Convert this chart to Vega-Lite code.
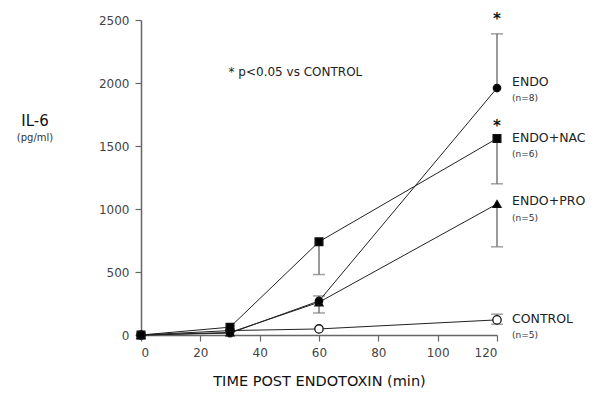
{
  "$schema": "https://vega.github.io/schema/vega-lite/v6.json",
  "width": 356,
  "height": 315,
  "autosize": {"type": "none"},
  "padding": {"left": 141, "top": 20, "right": 103, "bottom": 73},
  "background": "white",
  "config": {
    "view": {"stroke": null},
    "font": "DejaVu Sans",
    "axis": {
      "domainColor": "#666",
      "domainWidth": 1.5,
      "tickColor": "#666",
      "tickWidth": 1.2,
      "tickSize": 6,
      "grid": false,
      "labelFont": "DejaVu Sans",
      "labelFontSize": 12,
      "labelColor": "#444",
      "titleFont": "DejaVu Sans",
      "titleFontWeight": "normal",
      "titleColor": "#111"
    }
  },
  "title": {
    "text": "IL-6",
    "subtitle": "(pg/ml)",
    "anchor": "start",
    "frame": "group",
    "align": "center",
    "dx": -106,
    "dy": 135,
    "fontSize": 15,
    "fontWeight": "normal",
    "font": "DejaVu Sans",
    "subtitleFont": "DejaVu Sans",
    "subtitleFontSize": 10,
    "subtitleColor": "#333",
    "subtitlePadding": 4,
    "color": "#111"
  },
  "datasets": {
    "series": [
      {"group": "CONTROL", "time": 0, "il6": 0},
      {"group": "CONTROL", "time": 30, "il6": 35},
      {"group": "CONTROL", "time": 60, "il6": 48},
      {"group": "CONTROL", "time": 120, "il6": 120},
      {"group": "ENDO+PRO", "time": 0, "il6": 0},
      {"group": "ENDO+PRO", "time": 30, "il6": 20},
      {"group": "ENDO+PRO", "time": 60, "il6": 260},
      {"group": "ENDO+PRO", "time": 120, "il6": 1040},
      {"group": "ENDO", "time": 0, "il6": 0},
      {"group": "ENDO", "time": 30, "il6": 15},
      {"group": "ENDO", "time": 60, "il6": 270},
      {"group": "ENDO", "time": 120, "il6": 1960},
      {"group": "ENDO+NAC", "time": 0, "il6": 0},
      {"group": "ENDO+NAC", "time": 30, "il6": 62},
      {"group": "ENDO+NAC", "time": 60, "il6": 740},
      {"group": "ENDO+NAC", "time": 120, "il6": 1560}
    ],
    "errors": [
      {"group": "ENDO", "time": 120, "lo": 1960, "hi": 2390},
      {"group": "ENDO", "time": 60, "lo": 270, "hi": 310},
      {"group": "ENDO+NAC", "time": 120, "lo": 1200, "hi": 1560},
      {"group": "ENDO+NAC", "time": 60, "lo": 480, "hi": 740},
      {"group": "ENDO+PRO", "time": 120, "lo": 700, "hi": 1040},
      {"group": "ENDO+PRO", "time": 60, "lo": 175, "hi": 260},
      {"group": "CONTROL", "time": 120, "lo": 85, "hi": 165}
    ],
    "caps": [
      {"time": 120, "v": 2390},
      {"time": 60, "v": 310},
      {"time": 120, "v": 1200},
      {"time": 60, "v": 480},
      {"time": 120, "v": 700},
      {"time": 60, "v": 175},
      {"time": 120, "v": 85},
      {"time": 120, "v": 165}
    ],
    "labels": [
      {"time": 120, "v": 2010, "text": "ENDO", "kind": "name"},
      {"time": 120, "v": 1880, "text": "(n=8)", "kind": "n"},
      {"time": 120, "v": 1565, "text": "ENDO+NAC", "kind": "name"},
      {"time": 120, "v": 1435, "text": "(n=6)", "kind": "n"},
      {"time": 120, "v": 1065, "text": "ENDO+PRO", "kind": "name"},
      {"time": 120, "v": 930, "text": "(n=5)", "kind": "n"},
      {"time": 120, "v": 130, "text": "CONTROL", "kind": "name"},
      {"time": 120, "v": 0, "text": "(n=5)", "kind": "n"}
    ],
    "stars": [
      {"time": 120, "v": 2510},
      {"time": 120, "v": 1660}
    ],
    "note": [
      {"time": 29.5, "v": 2085, "text": "*  p<0.05  vs  CONTROL"}
    ]
  },
  "layer": [
    {
      "data": {"name": "errors"},
      "mark": {"type": "rule", "color": "#777", "strokeWidth": 1.5},
      "encoding": {
        "x": {"field": "time", "type": "quantitative", "scale": {"domain": [0, 120], "nice": false},
              "axis": {"values": [0, 20, 40, 60, 80, 100, 120], "title": "TIME POST ENDOTOXIN (min)", "titleFontSize": 14.5, "titlePadding": 16, "labelPadding": 6}},
        "y": {"field": "lo", "type": "quantitative", "scale": {"domain": [0, 2500], "nice": false},
              "axis": {"values": [0, 500, 1000, 1500, 2000, 2500], "format": "d", "title": null, "labelPadding": 6}},
        "y2": {"field": "hi"}
      }
    },
    {
      "data": {"name": "caps"},
      "mark": {"type": "tick", "orient": "horizontal", "color": "#777", "thickness": 1.5, "size": 12},
      "encoding": {
        "x": {"field": "time", "type": "quantitative"},
        "y": {"field": "v", "type": "quantitative"}
      }
    },
    {
      "data": {"name": "series"},
      "mark": {"type": "line", "color": "#222", "strokeWidth": 1},
      "encoding": {
        "x": {"field": "time", "type": "quantitative"},
        "y": {"field": "il6", "type": "quantitative"},
        "detail": {"field": "group"}
      }
    },
    {
      "data": {"name": "series"},
      "mark": {"type": "point", "filled": false, "strokeWidth": 1.3, "opacity": 1, "stroke": "#111"},
      "encoding": {
        "x": {"field": "time", "type": "quantitative"},
        "y": {"field": "il6", "type": "quantitative"},
        "shape": {"field": "group", "type": "nominal", "legend": null,
                  "scale": {"domain": ["ENDO", "ENDO+NAC", "ENDO+PRO", "CONTROL"], "range": ["circle", "square", "triangle-up", "circle"]}},
        "fill": {"field": "group", "type": "nominal", "legend": null,
                 "scale": {"domain": ["ENDO", "ENDO+NAC", "ENDO+PRO", "CONTROL"], "range": ["#000", "#000", "#000", "#fff"]}},
        "size": {"field": "group", "type": "nominal", "legend": null,
                 "scale": {"domain": ["ENDO", "ENDO+NAC", "ENDO+PRO", "CONTROL"], "range": [55, 70, 40, 40]}}
      }
    },
    {
      "data": {"name": "labels"},
      "transform": [{"filter": "datum.kind == 'name'"}],
      "mark": {"type": "text", "align": "left", "baseline": "middle", "dx": 15, "fontSize": 12.5, "color": "#222", "clip": false},
      "encoding": {
        "x": {"field": "time", "type": "quantitative"},
        "y": {"field": "v", "type": "quantitative"},
        "text": {"field": "text"}
      }
    },
    {
      "data": {"name": "labels"},
      "transform": [{"filter": "datum.kind == 'n'"}],
      "mark": {"type": "text", "align": "left", "baseline": "middle", "dx": 15, "fontSize": 9, "color": "#333", "clip": false},
      "encoding": {
        "x": {"field": "time", "type": "quantitative"},
        "y": {"field": "v", "type": "quantitative"},
        "text": {"field": "text"}
      }
    },
    {
      "data": {"name": "stars"},
      "mark": {"type": "text", "text": "*", "align": "center", "baseline": "middle", "fontSize": 15, "fontWeight": "bold", "color": "#111", "clip": false},
      "encoding": {
        "x": {"field": "time", "type": "quantitative"},
        "y": {"field": "v", "type": "quantitative"}
      }
    },
    {
      "data": {"name": "note"},
      "mark": {"type": "text", "align": "left", "baseline": "middle", "fontSize": 12, "color": "#222"},
      "encoding": {
        "x": {"field": "time", "type": "quantitative"},
        "y": {"field": "v", "type": "quantitative"},
        "text": {"field": "text"}
      }
    }
  ]
}
